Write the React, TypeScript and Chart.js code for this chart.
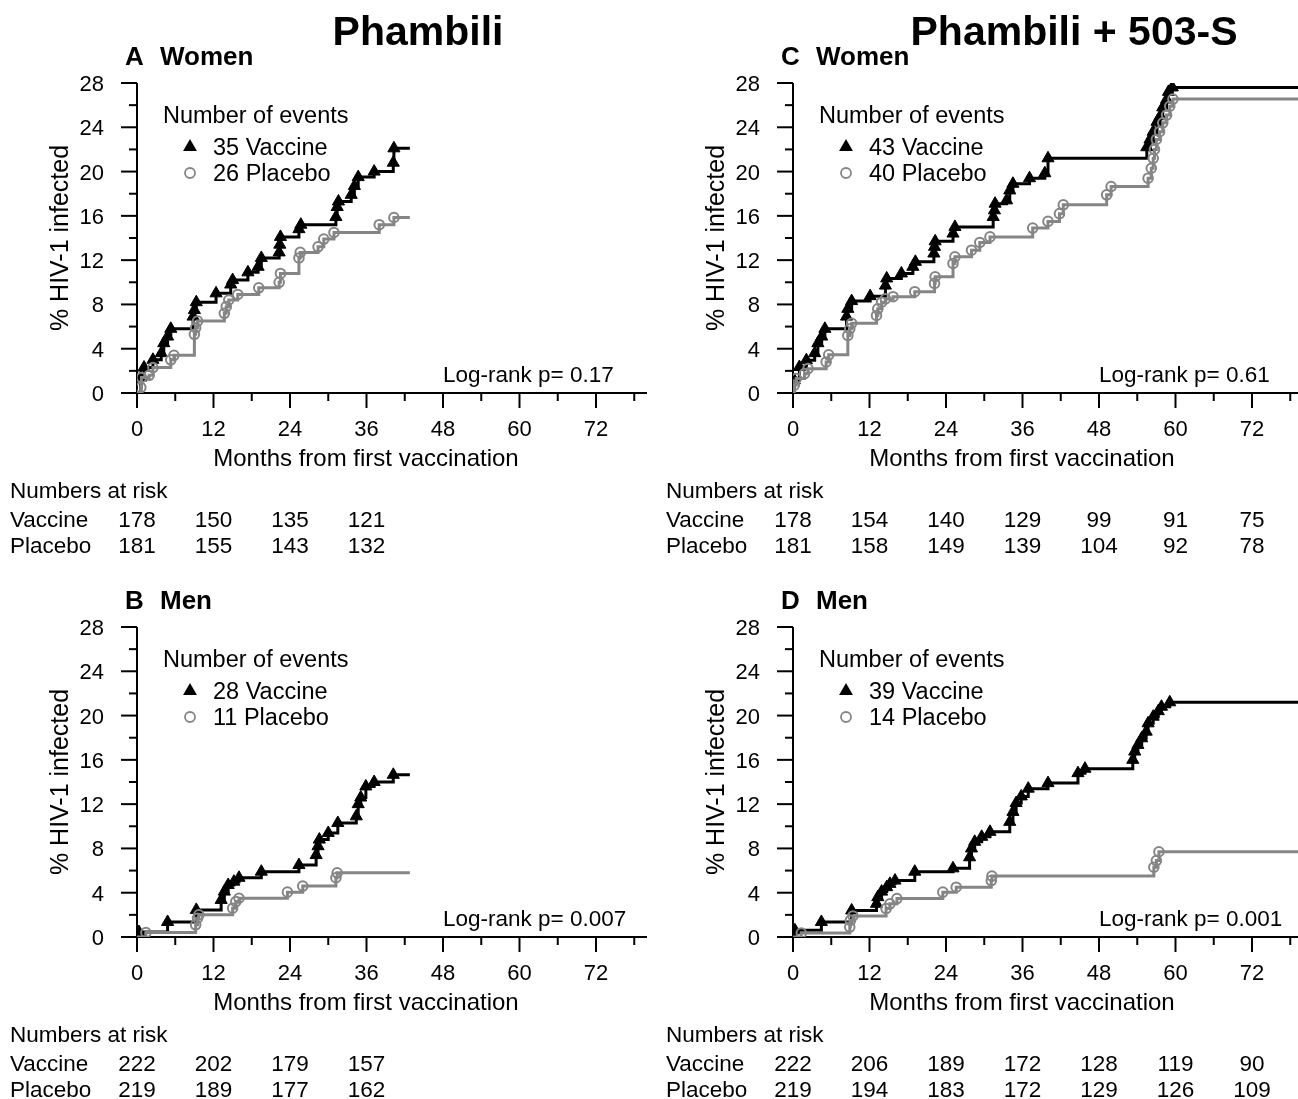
import React, { useEffect, useRef } from 'react';
import { Chart, registerables } from 'chart.js';

Chart.register(...registerables);

const FONT = '"Liberation Sans", Arial, Helvetica, sans-serif';
const BLACK = '#000000';
const GRAY = '#858585';

// Axis ticks
const X_TICKS = [0, 6, 12, 18, 24, 30, 36, 42, 48, 54, 60, 66, 72, 78];
const X_LABELS = [0, 12, 24, 36, 48, 60, 72];
const Y_TICKS = [0, 2, 4, 6, 8, 10, 12, 14, 16, 18, 20, 22, 24, 26, 28];
const Y_LABELS = [0, 4, 8, 12, 16, 20, 24, 28];
const RISK_MONTHS = [0, 12, 24, 36, 48, 60, 72];

// Panel A: Phambili, Women
const A_VAC_T = [0.6, 1.1, 2.5, 3.8, 4.2, 4.8, 5.3, 8.8, 9.0, 9.3, 12.4, 14.7, 15.0, 17.4, 19.0, 19.5, 22.3, 22.4, 22.5, 25.4, 25.7, 31.2, 31.4, 31.6, 33.6, 34.1, 34.7, 37.2, 40.2, 40.3];
const A_VAC_Y = [1.4, 2.3, 3.0, 3.6, 4.5, 5.1, 5.8, 6.9, 7.5, 8.2, 9.0, 9.8, 10.2, 10.9, 11.4, 12.2, 12.7, 13.4, 14.1, 14.8, 15.2, 15.9, 16.8, 17.3, 17.9, 18.7, 19.5, 20.0, 20.8, 22.1];
const A_PLA_T = [0.6, 0.7, 1.9, 2.5, 5.3, 5.8, 9.0, 9.2, 9.5, 13.7, 14.0, 14.4, 15.8, 19.1, 22.3, 22.5, 25.4, 25.6, 28.4, 29.3, 30.9, 38.0, 40.3];
const A_PLA_Y = [0.5, 1.4, 1.6, 2.3, 3.0, 3.4, 5.3, 5.9, 6.5, 7.2, 7.8, 8.4, 8.9, 9.5, 10.0, 10.8, 12.2, 12.7, 13.2, 13.9, 14.5, 15.2, 15.85];
const A_END = 42.8;
const A_RISK_VAC = [178, 150, 135, 121];
const A_RISK_PLA = [181, 155, 143, 132];

// Panel B: Phambili, Men
const B_VAC_T = [0.3, 4.8, 9.3, 13.2, 13.7, 14.3, 15.2, 16.0, 19.5, 25.4, 28.1, 28.4, 28.6, 30.0, 31.5, 34.4, 34.7, 35.1, 35.9, 37.2, 40.2];
const B_VAC_Y = [0.45, 1.36, 2.45, 3.35, 4.1, 4.7, 5.0, 5.35, 5.9, 6.5, 7.4, 8.2, 8.8, 9.4, 10.3, 10.9, 12.0, 12.6, 13.6, 14.0, 14.65];
const B_PLA_T = [1.4, 9.2, 9.5, 9.7, 15.0, 15.5, 16.0, 23.6, 26.0, 31.2, 31.4];
const B_PLA_Y = [0.4, 1.1, 1.7, 2.0, 2.6, 3.2, 3.5, 4.05, 4.6, 5.35, 5.8];
const B_END = 42.8;
const B_RISK_VAC = [222, 202, 179, 157];
const B_RISK_PLA = [219, 189, 177, 162];

// Panel C: Phambili + 503-S, Women
const C_VAC_T = [0.2, 1.0, 2.1, 3.4, 3.9, 4.5, 5.0, 8.4, 8.6, 9.2, 12.1, 14.5, 14.7, 17.0, 18.8, 19.2, 22.1, 22.2, 22.3, 25.1, 25.4, 31.4, 31.6, 31.7, 33.5, 34.0, 34.5, 37.1, 39.5, 40.0, 55.5, 56.0, 56.5, 57.1, 57.6, 58.0, 58.6, 58.9, 59.5];
const C_VAC_Y = [1.15, 2.35, 2.96, 3.6, 4.5, 5.1, 5.8, 6.9, 7.6, 8.3, 8.75, 9.7, 10.35, 10.8, 11.4, 11.85, 12.6, 13.2, 13.7, 14.4, 15.0, 15.9, 16.5, 17.1, 17.4, 18.3, 18.9, 19.4, 19.85, 21.2, 22.2, 22.9, 23.6, 24.5, 25.0, 25.8, 26.5, 27.2, 27.6];
const C_PLA_T = [0.2, 0.5, 1.8, 2.35, 5.2, 5.6, 8.6, 8.9, 9.2, 13.1, 13.3, 13.9, 14.5, 15.7, 19.1, 22.2, 22.3, 25.1, 25.4, 28.0, 29.3, 30.9, 37.6, 40.0, 41.8, 42.4, 49.2, 49.9, 55.7, 56.2, 56.5, 56.7, 57.0, 57.5, 58.0, 58.6, 59.1, 59.6];
const C_PLA_Y = [0.7, 1.3, 1.75, 2.2, 2.8, 3.45, 5.2, 5.8, 6.3, 7.0, 7.6, 8.2, 8.5, 8.7, 9.15, 9.9, 10.5, 11.7, 12.3, 12.9, 13.6, 14.1, 14.9, 15.5, 16.2, 17.0, 17.9, 18.65, 19.4, 20.3, 21.2, 22.0, 22.9, 23.6, 24.4, 25.1, 25.9, 26.55];
const C_END = 80;
const C_RISK_VAC = [178, 154, 140, 129, 99, 91, 75];
const C_RISK_PLA = [181, 158, 149, 139, 104, 92, 78];

// Panel D: Phambili + 503-S, Men
const D_VAC_T = [0.3, 4.45, 9.2, 13.1, 13.3, 13.9, 14.7, 15.2, 16.0, 19.1, 25.1, 27.7, 28.0, 28.5, 29.6, 30.9, 34.0, 34.5, 35.0, 35.8, 36.9, 40.0, 44.7, 45.8, 53.3, 53.6, 54.1, 54.7, 55.4, 55.7, 56.5, 57.3, 57.8, 59.1];
const D_VAC_Y = [0.6, 1.36, 2.4, 3.0, 3.6, 4.1, 4.5, 4.8, 5.1, 5.9, 6.2, 7.2, 8.0, 8.6, 9.05, 9.5, 10.4, 11.3, 12.1, 12.7, 13.4, 13.9, 14.8, 15.2, 16.0, 16.75, 17.35, 17.95, 18.55, 19.3, 19.9, 20.4, 20.8, 21.2];
const D_PLA_T = [1.3, 8.9, 9.0, 9.4, 14.6, 15.2, 16.3, 23.5, 25.6, 31.1, 31.2, 56.6, 57.0, 57.4];
const D_PLA_Y = [0.36, 0.9, 1.5, 1.9, 2.57, 3.0, 3.47, 4.05, 4.5, 5.1, 5.5, 6.3, 6.9, 7.7];
const D_END = 80;
const D_RISK_VAC = [222, 206, 189, 172, 128, 119, 90];
const D_RISK_PLA = [219, 194, 183, 172, 129, 126, 109];

type PanelProps = {
  left: number;
  top: number;
  mainTitle?: string;
  letter: string;
  group: string;
  vacT: number[];
  vacY: number[];
  plaT: number[];
  plaY: number[];
  end: number;
  nVac: number;
  nPla: number;
  pval: string;
  riskVac: number[];
  riskPla: number[];
};

const CW = 660;
const CH = 560;

function buildSeries(t: number[], y: number[], end: number) {
  const pts = [{ x: 0, y: 0 }];
  t.forEach((tt, i) => pts.push({ x: tt, y: y[i] }));
  pts.push({ x: end, y: y[y.length - 1] });
  return pts;
}

function drawTriangle(ctx: CanvasRenderingContext2D, x: number, y: number, r: number) {
  ctx.beginPath();
  ctx.moveTo(x, y - r);
  ctx.lineTo(x + r * Math.sin(Math.PI / 3), y + r * 0.5);
  ctx.lineTo(x - r * Math.sin(Math.PI / 3), y + r * 0.5);
  ctx.closePath();
  ctx.fill();
}

function Panel(p: PanelProps) {
  const ref = useRef<HTMLCanvasElement>(null);
  useEffect(() => {
    const canvas = ref.current;
    if (!canvas) return;
    const vac = buildSeries(p.vacT, p.vacY, p.end);
    const pla = buildSeries(p.plaT, p.plaY, p.end);

    const axesPlugin = {
      id: 'kmAxes',
      beforeDatasetsDraw(chart: any) {
        const ctx = chart.ctx as CanvasRenderingContext2D;
        const xs = chart.scales.x;
        const ys = chart.scales.y;
        const x0 = xs.getPixelForValue(0);
        const y0 = ys.getPixelForValue(0);
        ctx.save();
        ctx.strokeStyle = BLACK;
        ctx.lineWidth = 2;
        ctx.beginPath();
        ctx.moveTo(x0, ys.getPixelForValue(28));
        ctx.lineTo(x0, y0);
        ctx.lineTo(xs.getPixelForValue(80), y0);
        ctx.stroke();
        Y_TICKS.forEach((v) => {
          const py = ys.getPixelForValue(v);
          const len = Y_LABELS.includes(v) ? 16 : 8;
          ctx.beginPath();
          ctx.moveTo(x0 - len, py);
          ctx.lineTo(x0, py);
          ctx.stroke();
        });
        X_TICKS.forEach((v) => {
          const px = xs.getPixelForValue(v);
          const len = X_LABELS.includes(v) ? 15 : 8;
          ctx.beginPath();
          ctx.moveTo(px, y0);
          ctx.lineTo(px, y0 + len);
          ctx.stroke();
        });
        ctx.restore();
      },
      afterDraw(chart: any) {
        const ctx = chart.ctx as CanvasRenderingContext2D;
        const xs = chart.scales.x;
        const ys = chart.scales.y;
        const x0 = xs.getPixelForValue(0);
        const y0 = ys.getPixelForValue(0);
        ctx.save();
        ctx.fillStyle = BLACK;
        ctx.textBaseline = 'alphabetic';

        // tick labels
        ctx.font = `22px ${FONT}`;
        ctx.textAlign = 'right';
        Y_LABELS.forEach((v) => {
          ctx.fillText(String(v), x0 - 33, ys.getPixelForValue(v) + 8);
        });
        ctx.textAlign = 'center';
        X_LABELS.forEach((v) => {
          ctx.fillText(String(v), xs.getPixelForValue(v), y0 + 43);
        });

        // axis titles
        ctx.font = `24px ${FONT}`;
        ctx.textAlign = 'center';
        ctx.fillText('Months from first vaccination', 366, y0 + 73);
        ctx.save();
        ctx.translate(68, 238);
        ctx.rotate(-Math.PI / 2);
        ctx.font = `25px ${FONT}`;
        ctx.fillText('% HIV-1 infected', 0, 0);
        ctx.restore();

        // main title
        if (p.mainTitle) {
          ctx.font = `bold 41px ${FONT}`;
          ctx.textAlign = 'center';
          ctx.fillText(p.mainTitle, 418, 45);
        }
        // panel label
        ctx.font = `bold 26px ${FONT}`;
        ctx.textAlign = 'left';
        ctx.fillText(p.letter, 125, 65);
        ctx.fillText(p.group, 160, 65);

        // legend
        ctx.font = `23.5px ${FONT}`;
        ctx.textAlign = 'left';
        ctx.fillText('Number of events', 163, 123);
        ctx.fillText(`${p.nVac} Vaccine`, 213, 155);
        ctx.fillText(`${p.nPla} Placebo`, 213, 181);
        ctx.fillStyle = BLACK;
        drawTriangle(ctx, 190, 147, 8);
        ctx.strokeStyle = GRAY;
        ctx.lineWidth = 1.8;
        ctx.beginPath();
        ctx.arc(190, 173, 5, 0, Math.PI * 2);
        ctx.stroke();

        // log-rank
        ctx.fillStyle = BLACK;
        ctx.font = `22.5px ${FONT}`;
        ctx.textAlign = 'left';
        ctx.fillText(`Log-rank p= ${p.pval}`, 443, 382);

        // numbers at risk
        ctx.font = `22.5px ${FONT}`;
        ctx.textAlign = 'left';
        ctx.fillText('Numbers at risk', 10, 498);
        ctx.fillText('Vaccine', 10, 527);
        ctx.fillText('Placebo', 10, 553);
        ctx.textAlign = 'center';
        p.riskVac.forEach((n, i) => {
          ctx.fillText(String(n), xs.getPixelForValue(RISK_MONTHS[i]), 527);
        });
        p.riskPla.forEach((n, i) => {
          ctx.fillText(String(n), xs.getPixelForValue(RISK_MONTHS[i]), 553);
        });
        ctx.restore();
      },
    };

    const radiusFor = (n: number, r: number) => (c: any) =>
      c.dataIndex === 0 || c.dataIndex === n - 1 ? 0 : r;

    const chart = new Chart(canvas, {
      type: 'line',
      data: {
        datasets: [
          {
            label: 'Placebo',
            data: pla,
            stepped: 'before',
            borderColor: GRAY,
            borderWidth: 3,
            pointStyle: 'circle',
            pointRadius: radiusFor(pla.length, 4.8),
            pointBorderColor: GRAY,
            pointBackgroundColor: 'rgba(0,0,0,0)',
            pointBorderWidth: 2,
            fill: false,
          } as any,
          {
            label: 'Vaccine',
            data: vac,
            stepped: 'before',
            borderColor: BLACK,
            borderWidth: 3,
            pointStyle: 'triangle',
            pointRadius: radiusFor(vac.length, 7),
            pointBorderColor: BLACK,
            pointBackgroundColor: BLACK,
            pointBorderWidth: 1,
            fill: false,
          } as any,
        ],
      },
      options: {
        animation: false,
        responsive: false,
        events: [],
        layout: { padding: { top: 83, right: 13, left: 0, bottom: 0 } },
        plugins: {
          legend: { display: false },
          tooltip: { enabled: false },
          title: { display: false },
        },
        scales: {
          x: {
            type: 'linear',
            min: 0,
            max: 80,
            grid: { display: false, drawTicks: false },
            border: { display: false },
            ticks: { display: false, stepSize: 6 },
            afterFit: (s: any) => {
              s.height = CH - 393;
            },
          },
          y: {
            type: 'linear',
            min: 0,
            max: 28,
            grid: { display: false, drawTicks: false },
            border: { display: false },
            ticks: { display: false, stepSize: 2 },
            afterFit: (s: any) => {
              s.width = 137;
            },
          },
        },
      } as any,
      plugins: [axesPlugin],
    });
    return () => chart.destroy();
  }, []);
  return (
    <canvas
      ref={ref}
      width={CW}
      height={CH}
      style={{ position: 'absolute', left: p.left, top: p.top, width: CW, height: CH }}
    />
  );
}

export default function App() {
  return (
    <div
      style={{
        position: 'absolute',
        left: 0,
        top: 0,
        width: 1298,
        height: 1099,
        overflow: 'hidden',
        background: '#ffffff',
      }}
    >
      <Panel left={0} top={0} mainTitle="Phambili" letter="A" group="Women"
        vacT={A_VAC_T} vacY={A_VAC_Y} plaT={A_PLA_T} plaY={A_PLA_Y} end={A_END}
        nVac={35} nPla={26} pval="0.17" riskVac={A_RISK_VAC} riskPla={A_RISK_PLA} />
      <Panel left={656} top={0} mainTitle="Phambili + 503-S" letter="C" group="Women"
        vacT={C_VAC_T} vacY={C_VAC_Y} plaT={C_PLA_T} plaY={C_PLA_Y} end={C_END}
        nVac={43} nPla={40} pval="0.61" riskVac={C_RISK_VAC} riskPla={C_RISK_PLA} />
      <Panel left={0} top={544} letter="B" group="Men"
        vacT={B_VAC_T} vacY={B_VAC_Y} plaT={B_PLA_T} plaY={B_PLA_Y} end={B_END}
        nVac={28} nPla={11} pval="0.007" riskVac={B_RISK_VAC} riskPla={B_RISK_PLA} />
      <Panel left={656} top={544} letter="D" group="Men"
        vacT={D_VAC_T} vacY={D_VAC_Y} plaT={D_PLA_T} plaY={D_PLA_Y} end={D_END}
        nVac={39} nPla={14} pval="0.001" riskVac={D_RISK_VAC} riskPla={D_RISK_PLA} />
    </div>
  );
}
